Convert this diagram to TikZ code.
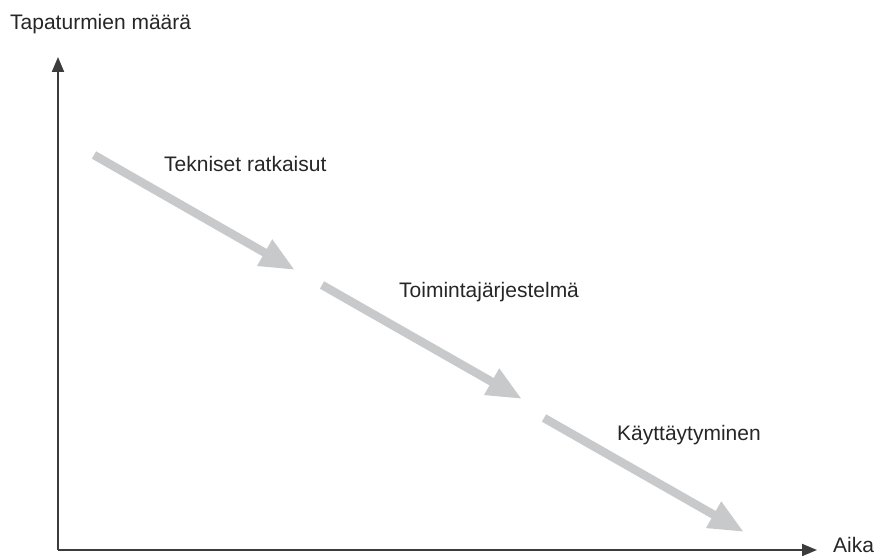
\documentclass[tikz,border=0pt]{standalone}
\usepackage{fontspec}
\setmainfont{Liberation Sans}
\usetikzlibrary{arrows.meta}
\definecolor{axisgray}{RGB}{60,60,60}
\definecolor{stepgray}{RGB}{200,201,203}
\begin{document}
\begin{tikzpicture}[x=1pt,y=-1pt,
  axisline/.style={draw=axisgray,line width=2pt,-{Triangle[length=15pt,width=12pt]}},
  stepline/.style={draw=stepgray,line width=8.5pt,-{Triangle[length=35pt,width=28pt]}},
  lbl/.style={inner sep=0pt,anchor=base west,font=\fontsize{21}{25}\selectfont,text=black!85}]
\useasboundingbox (0,0) rectangle (876,556);
\coordinate (origin) at (58,550);
\coordinate (ytip) at (58,57);
\coordinate (xtip) at (817,550);
\draw[axisline] (origin) -- (ytip);
\draw[axisline] (origin) -- (xtip);
\node[lbl] (ylabel) at (10,30) {Tapaturmien määrä};
\node[lbl] (xlabel) at (833,552) {Aika};
\coordinate (a1s) at (94,155);
\coordinate (a1e) at (295,270);
\coordinate (a2s) at (322,285);
\coordinate (a2e) at (522,399);
\coordinate (a3s) at (544,418);
\coordinate (a3e) at (744,532);
\draw[stepline] (a1s) -- (a1e);
\draw[stepline] (a2s) -- (a2e);
\draw[stepline] (a3s) -- (a3e);
\node[lbl] (l1) at (164,172) {Tekniset ratkaisut};
\node[lbl] (l2) at (399,298) {Toimintajärjestelmä};
\node[lbl] (l3) at (617,440) {Käyttäytyminen};
\end{tikzpicture}
\end{document}
